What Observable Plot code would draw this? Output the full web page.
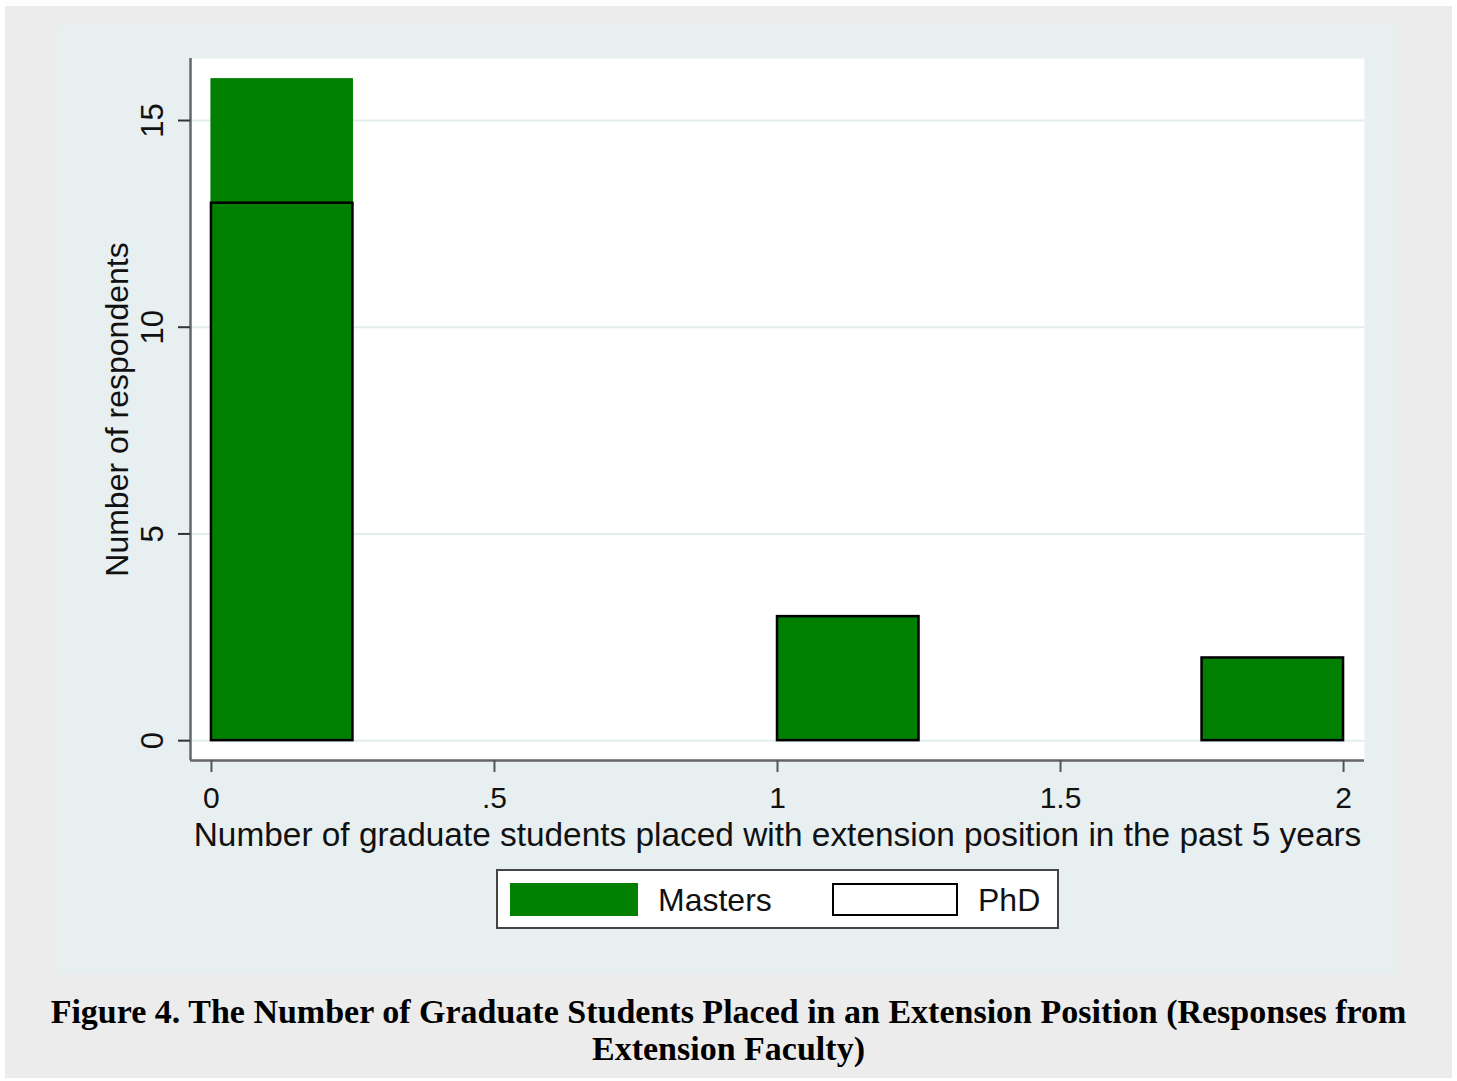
<!DOCTYPE html>
<html>
<head>
<meta charset="utf-8">
<script src="https://cdn.jsdelivr.net/npm/d3@7"></script>
<script src="https://cdn.jsdelivr.net/npm/@observablehq/plot@0.6"></script>
<style>
  html, body { margin: 0; padding: 0; background: #ffffff; }
  body { width: 1457px; height: 1081px; position: relative; overflow: hidden; font-family: "Liberation Sans", Arial, sans-serif; }
  #outer { position: absolute; left: 5px; top: 6px; width: 1447px; height: 1072px; background: #ececec; }
  #panel { position: absolute; left: 57px; top: 25px; width: 1341px; height: 948px; background: #e8eff1; }
  #chart { position: absolute; left: 0; top: 0; }
  #legend { position: absolute; left: 439px; top: 844px; width: 563px; height: 60px; background: #fff; border: 2px solid #444; box-sizing: border-box; }
  .sw { position: absolute; top: 12px; height: 33px; box-sizing: border-box; }
  .lt { position: absolute; top: 11px; font-size: 32px; line-height: 36px; color: #111; }
  #caption { position: absolute; left: 0; width: 1457px; top: 993px; text-align: center; font-family: "Liberation Serif", "Times New Roman", serif; font-weight: bold; font-size: 34px; line-height: 37px; color: #000; }
</style>
</head>
<body>
<div id="outer"></div>
<div id="panel">
  <div id="chart"></div>
  <div id="legend"></div>
</div>
<div id="caption"></div>
<script>
// ---- Data ----
const seriesNames = ["Masters", "PhD"];
const binStart = [0, 1, 1.75];
const binEnd = [0.25, 1.25, 2];
const mastersCounts = [16, 3, 2];
const phdCounts = [13, 3, 2];
const yTicks = [0, 5, 10, 15];
const xTicks = [0, 0.5, 1, 1.5, 2];
const xTickLabels = ["0", ".5", "1", "1.5", "2"];
const xTitle = "Number of graduate students placed with extension position in the past 5 years";
const yTitle = "Number of respondents";
const captionText = "Figure 4. The Number of Graduate Students Placed in an Extension Position (Responses from Extension Faculty)";

const green = "#007f00";
const xDomain = [-0.037, 2.037];
const yDomain = [-0.48, 16.5];

const masters = binStart.map((s, i) => ({x1: s, x2: binEnd[i], y: mastersCounts[i]}));
const phd = binStart.map((s, i) => ({x1: s, x2: binEnd[i], y: phdCounts[i]}));

const chart = Plot.plot({
  width: 1341,
  height: 850,
  marginLeft: 133,
  marginRight: 34,
  marginTop: 33,
  marginBottom: 115,
  style: {background: "transparent", fontFamily: "'Liberation Sans', Arial, sans-serif", color: "#111", overflow: "visible"},
  x: {domain: xDomain, axis: null},
  y: {domain: yDomain, axis: null},
  marks: [
    Plot.frame({fill: "white", stroke: "none"}),
    Plot.gridY(yTicks, {stroke: "#e2ecef", strokeOpacity: 1, strokeWidth: 2}),
    Plot.rect(masters, {x1: "x1", x2: "x2", y1: 0, y2: "y", fill: green, stroke: green, strokeWidth: 1, inset: 0}),
    Plot.rect(phd, {x1: "x1", x2: "x2", y1: 0, y2: "y", fill: "none", stroke: "#000", strokeWidth: 2.5, inset: 0}),
    Plot.ruleX([xDomain[0]], {stroke: "#666", strokeWidth: 2.5}),
    Plot.ruleY([yDomain[0]], {stroke: "#666", strokeWidth: 2.5}),
    Plot.axisY(yTicks, {anchor: "left", tickSize: 12, tickFormat: () => "", label: null, stroke: "#333", strokeWidth: 2}),
    Plot.text(yTicks, {x: xDomain[0], y: d => d, text: d => String(d), rotate: -90, dx: -37, fontSize: 31, textAnchor: "middle", lineAnchor: "middle", fill: "#111"}),
    Plot.axisX(xTicks, {anchor: "bottom", tickSize: 12, tickPadding: 14, tickFormat: (d, i) => xTickLabels[i], label: null, fontSize: 30, stroke: "#555", strokeWidth: 2, fill: "#111"}),
    Plot.text([xTitle], {frameAnchor: "bottom", dy: 75, fontSize: 33.4, textAnchor: "middle", lineAnchor: "middle", fill: "#111"}),
    Plot.text([yTitle], {frameAnchor: "left", dx: -73, rotate: -90, fontSize: 32, textAnchor: "middle", lineAnchor: "middle", fill: "#111"})
  ]
});
document.getElementById("chart").appendChild(chart);

// Legend
const legend = document.getElementById("legend");
const sw1 = document.createElement("div");
sw1.className = "sw";
Object.assign(sw1.style, {left: "12px", width: "128px", background: green});
const t1 = document.createElement("div");
t1.className = "lt"; t1.style.left = "160px"; t1.textContent = seriesNames[0];
const sw2 = document.createElement("div");
sw2.className = "sw";
Object.assign(sw2.style, {left: "334px", width: "126px", background: "#fff", border: "2.5px solid #000"});
const t2 = document.createElement("div");
t2.className = "lt"; t2.style.left = "480px"; t2.textContent = seriesNames[1];
legend.append(sw1, t1, sw2, t2);

document.getElementById("caption").textContent = captionText;
</script>
</body>
</html>
